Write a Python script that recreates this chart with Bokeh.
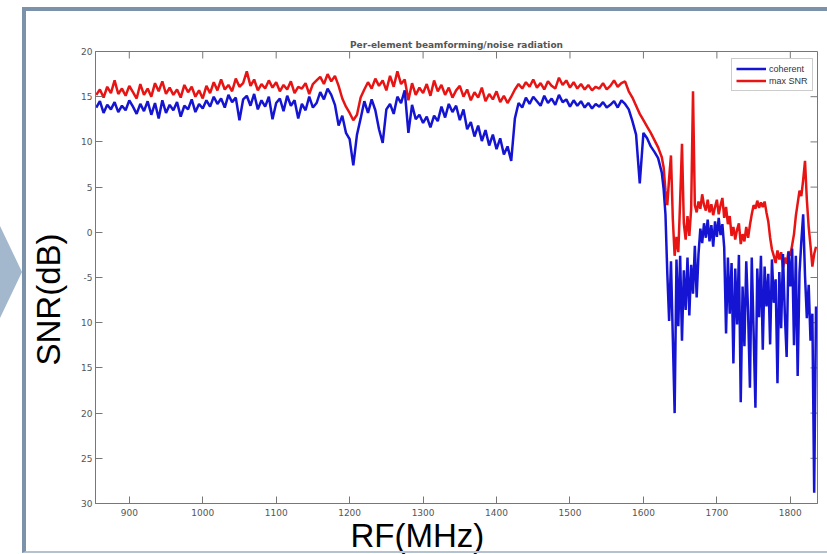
import math
from bokeh.plotting import figure
from bokeh.models import (Range1d, LinearAxis, FixedTicker, Legend, LegendItem,
                          Title, InlineStyleSheet)
from bokeh.embed import file_html
from bokeh.resources import INLINE

# ---------------- data ----------------
# 5 MHz sampling up to 1620 MHz, 2.5 MHz sampling in the noisy band above
freq_mhz = list(range(855, 1621, 5)) + [1625 + 2.5 * i for i in range(85)]

max_snr = [
    15.2, 15.8, 14.9, 16.1, 15.4, 16.8, 15.3, 15.9, 15.1, 16.2,
    15.5, 14.8, 16.4, 15.2, 15.9, 15.0, 16.5, 15.6, 16.7, 15.3,
    16.0, 15.2, 15.8, 14.9, 16.3, 15.5, 16.1, 15.0, 15.7, 14.8,
    16.2, 15.4, 16.6, 15.7, 16.9, 15.8, 16.3, 15.6, 17.0, 16.1,
    16.5, 17.8, 16.2, 16.9, 15.7, 16.4, 15.9, 16.8, 16.0, 16.6,
    15.6, 16.3, 15.8, 16.7, 15.4, 16.1, 15.9, 16.5, 15.3, 16.4,
    16.8, 17.2, 16.4, 17.5, 16.7, 17.3, 16.2, 14.8, 13.9, 13.2,
    12.4, 13.0, 14.9, 15.8, 16.6, 15.9, 17.0, 16.2, 16.8, 15.7,
    17.3, 16.1, 17.8, 16.4, 16.9, 14.6, 16.5, 15.2, 16.0, 15.4,
    16.4, 15.1, 16.8, 15.6, 16.3, 15.2, 16.0, 14.9, 15.7, 16.2,
    15.0, 15.8, 14.6, 15.5, 14.9, 16.0, 14.5, 15.3, 14.7, 15.6,
    14.4, 15.1, 14.3, 15.0, 15.8, 16.4, 15.9, 16.6, 16.1, 16.9,
    16.0, 16.5, 15.8, 16.7, 16.2, 15.9, 17.1, 16.3, 16.8, 16.0,
    16.6, 15.9, 16.4, 15.8, 16.3, 15.7, 16.1, 15.9, 16.5, 15.8,
    16.2, 16.8, 16.1, 16.5, 16.7, 15.6, 14.9, 14.0, 13.1, 12.4,
    11.7, 11.0, 10.2, 9.4,
    # 1625 MHz onwards, every 2.5 MHz
    8.3, 7.2, 4.6, 3.0, 6.0, 8.5, 1.5, -2.6,
    -0.5, -2.2, 3.5, 9.8, 1.0, -0.8, 1.8, -0.4,
    2.6, 15.6, 3.0, 2.2, 3.4, 2.6, 4.2, 3.0,
    2.4, 3.6, 2.2, 3.1, 1.9, 2.8, 3.6, 2.0,
    3.0, 3.8, 1.6, 2.8, 0.9, 1.8, -0.4, 0.6,
    -0.8, 0.3, 1.0, -1.3, -0.2, -1.0, 0.6, -0.6,
    0.8, 2.0, 3.0, 2.6, 3.5, 2.7, 3.3, 2.8,
    3.4, 2.2, 1.2, -0.6, -1.9, -2.6, -3.4, -2.0,
    -3.0, -2.2, -3.9, -2.8, -3.5, -2.1, -2.6, -1.4,
    -0.2, 1.8, 3.2, 4.6, 4.0, 5.8, 7.9, 3.6,
    0.6, -1.5, -3.8, -2.4, -1.6,
]

coherent = [
    13.8, 14.5, 13.2, 14.1, 13.6, 14.4, 13.3, 14.0, 13.5, 14.6,
    13.9, 13.1, 14.2, 13.4, 14.5, 13.0, 14.3, 12.6, 14.6, 13.2,
    14.1, 13.5, 14.4, 12.8, 14.0, 13.6, 14.7, 13.3, 14.2, 13.7,
    14.6, 13.9, 15.0, 14.2, 14.8, 13.8, 15.2, 14.4, 14.9, 12.4,
    14.7, 15.1, 14.0, 15.3, 13.6, 14.6, 13.9, 15.0, 12.5, 14.3,
    14.8, 13.4, 15.1, 14.0, 14.6, 12.6, 14.2, 13.5, 15.0, 13.8,
    14.3, 15.5, 14.7, 15.9, 15.2, 14.1, 11.8, 12.9, 11.0, 10.3,
    7.4, 10.8, 12.6, 14.5, 13.2, 14.7, 13.5, 11.4, 9.9, 13.6,
    14.2, 13.1, 15.0, 14.3, 15.7, 11.0, 14.1, 12.5, 13.0, 12.1,
    12.8, 11.6, 12.9, 12.3, 13.9, 12.7, 14.2, 13.3, 14.0, 12.4,
    13.6, 11.4, 12.2, 10.6, 11.8, 10.1, 11.3, 9.6, 10.8, 9.2,
    10.4, 8.6, 9.5, 7.9, 12.6, 14.3, 13.8, 14.9, 14.2, 15.0,
    14.5, 14.0, 15.1, 14.3, 14.8, 14.1, 15.2, 14.4, 14.7, 13.9,
    14.6, 14.0, 14.5, 13.8, 14.3, 13.7, 14.2, 13.9, 14.4, 13.8,
    14.1, 14.5, 13.8, 14.6, 14.2, 13.6, 12.3, 10.8, 5.4, 11.0,
    10.4, 9.5, 8.9, 8.2,
    # 1625 MHz onwards, every 2.5 MHz
    6.6, 4.8, 2.0, -4.5, -9.8, -3.2, -11.6, -20.0,
    -3.0, -10.4, -2.6, -12.0, -4.2, -8.6, -2.8, -9.2,
    -3.6, -6.8, -1.5, -7.2, -2.4, 0.4, -1.2, 1.0,
    -0.6, 1.4, -1.0, 0.8, -1.6, 1.2, -0.5, 1.6,
    -0.3, 0.9, -1.7, -11.2, -2.8, -9.0, -3.4, -14.5,
    -4.0, -10.2, -2.5, -18.8, -6.0, -12.6, -3.2, -8.8,
    -17.2, -2.8, -11.0, -19.4, -4.0, -9.4, -2.6, -13.0,
    -3.8, -8.2, -4.6, -12.4, -3.0, -7.8, -5.2, -16.7,
    -4.4, -10.6, -2.4, -9.0, -13.8, -2.2, -6.0, -1.8,
    -12.5, -2.6, -15.9, -4.5, -1.0, 2.0, -4.8, -9.5,
    -5.8, -12.0, -9.0, -28.8, -8.2,
]

x_ticks = [900, 1000, 1100, 1200, 1300, 1400, 1500, 1600, 1700, 1800]
y_ticks = [-30, -25, -20, -15, -10, -5, 0, 5, 10, 15, 20]
y_tick_labels = ["30", "25", "20", "15", "10", "-5", "0", "5", "10", "15", "20"]
x_min, x_max = 854, 1837
y_min, y_max = -30, 20

title_text = "Per-element beamforming/noise radiation"
x_title = "RF(MHz)"
y_title = "SNR(dB)"
series_names = ["coherent", "max SNR"]

assert len(freq_mhz) == len(max_snr) == len(coherent)

# ---------------- figure ----------------
AX = "#777777"
FRAME = "#7b92aa"
p = figure(width=827, height=554, output_backend="svg", toolbar_location=None,
           x_range=Range1d(x_min, x_max), y_range=Range1d(y_min, y_max),
           x_axis_location=None, y_axis_location=None,
           min_border_left=95, min_border_right=10,
           min_border_top=51, min_border_bottom=51)
p.grid.visible = False
p.background_fill_color = "white"
p.border_fill_color = "white"
p.outline_line_color = AX
p.outline_line_width = 1

# slide-like frame around the picture (::after) and the arrow at its left (::before)
p.styles = {"position": "relative"}
p.stylesheets = [InlineStyleSheet(css=f"""
:host::before {{
  content: "";
  position: absolute;
  left: 0px;
  top: 226px;
  width: 0;
  height: 0;
  border-left: 22px solid #a3b8cc;
  border-top: 46px solid transparent;
  border-bottom: 46px solid transparent;
  z-index: 5;
  pointer-events: none;
}}
:host::after {{
  content: "";
  position: absolute;
  left: 22px;
  top: 7px;
  right: 0px;
  height: 546px;
  box-sizing: border-box;
  border-left: 4px solid {FRAME};
  border-top: 4px solid {FRAME};
  border-bottom: 2px solid #b4c2cf;
  z-index: 6;
  pointer-events: none;
}}
""")]


def make_axis(ticks, standoff):
    return LinearAxis(ticker=FixedTicker(ticks=ticks),
                      major_tick_in=7, major_tick_out=0,
                      minor_tick_line_color=None,
                      axis_line_color=AX, major_tick_line_color=AX,
                      major_label_text_font="DejaVu Sans",
                      major_label_text_font_size="9px",
                      major_label_text_color="#555555",
                      major_label_standoff=standoff)


xb = make_axis(x_ticks, 5)
p.add_layout(xb, "below")
yl = make_axis(y_ticks, 3)
yl.major_label_overrides = {t: s for t, s in zip(y_ticks, y_tick_labels)}
p.add_layout(yl, "left")

# inward ticks on the top and right edges of the box
p.ray(x=x_ticks, y=[y_max] * len(x_ticks), length=7, length_units="screen",
      angle=-math.pi / 2, line_color=AX, line_width=1)
p.ray(x=[x_max] * len(y_ticks), y=y_ticks, length=7, length_units="screen",
      angle=math.pi, line_color=AX, line_width=1)

# ---------------- lines ----------------
r_red = p.line(freq_mhz, max_snr, line_color="#e81414", line_width=2.5)
r_blue = p.line(freq_mhz, coherent, line_color="#1414d2", line_width=2.5)

legend = Legend(items=[LegendItem(label=series_names[0], renderers=[r_blue]),
                       LegendItem(label=series_names[1], renderers=[r_red])],
                location=(636, 412),
                label_text_font="Liberation Sans", label_text_font_size="9px",
                label_text_color="#333333",
                label_height=11, glyph_height=11, glyph_width=30,
                spacing=1, padding=4, label_standoff=3,
                border_line_color="#999999", border_line_width=1,
                background_fill_alpha=1.0)
p.add_layout(legend)

# ---------------- texts ----------------
p.add_layout(Title(text=x_title, align="left", offset=255, standoff=-8,
                   text_font="Liberation Sans", text_font_size="33px",
                   text_font_style="normal", text_color="black"), "below")
p.add_layout(Title(text=y_title, align="left", offset=138, standoff=23,
                   text_font="Liberation Sans", text_font_size="33px",
                   text_font_style="normal", text_color="black"), "left")
p.add_layout(Title(text=title_text, align="center", standoff=3,
                   text_font="DejaVu Sans", text_font_size="9px",
                   text_font_style="bold", text_color="#555555"), "above")

open("out.html", "w").write(file_html(p, INLINE))
